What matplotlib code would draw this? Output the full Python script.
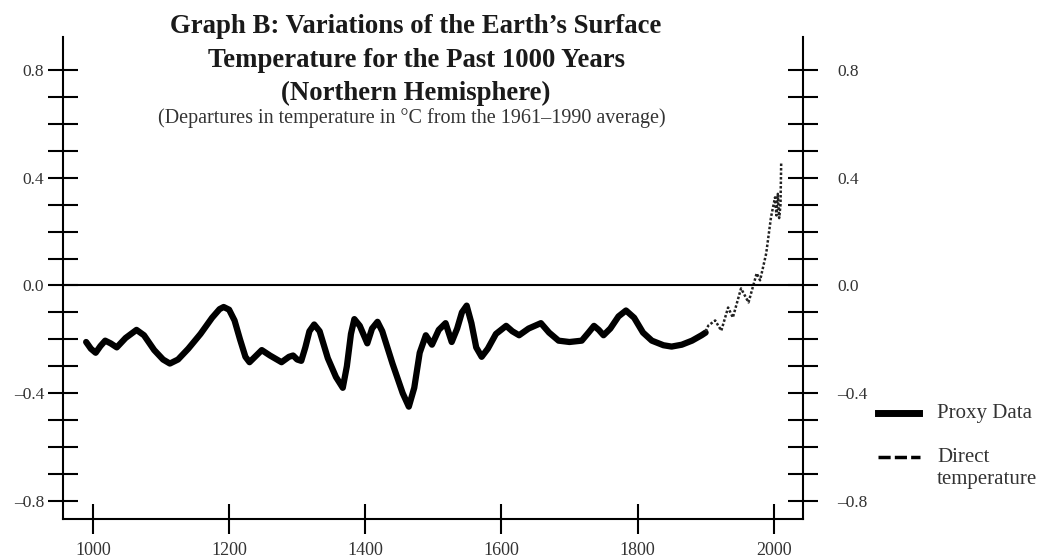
import matplotlib.pyplot as plt
from matplotlib.lines import Line2D
from matplotlib.ticker import FixedLocator

# values
proxy_years = [990, 997, 1004, 1011, 1018, 1026, 1035, 1048, 1064, 1075, 1090, 1103,
               1113, 1125, 1140, 1158, 1175, 1186, 1192, 1200, 1208, 1216, 1224, 1230,
               1238, 1248, 1260, 1277, 1288, 1294, 1300, 1306, 1312, 1318, 1325, 1333,
               1345, 1357, 1367, 1373, 1379, 1384, 1392, 1403, 1410, 1418, 1425, 1440,
               1455, 1464, 1472, 1480, 1489, 1498, 1508, 1518, 1527, 1535, 1542, 1549,
               1556, 1563, 1571, 1580, 1592, 1607, 1616, 1626, 1640, 1658, 1670, 1684,
               1700, 1718, 1728, 1736, 1743, 1750, 1760, 1772, 1783, 1795, 1808, 1821,
               1838, 1850, 1865, 1880, 1894, 1900]
proxy_temps = [-0.21, -0.235, -0.25, -0.225, -0.205, -0.215, -0.23, -0.195, -0.165, -0.185, -0.24, -0.275,
               -0.29, -0.275, -0.235, -0.18, -0.12, -0.088, -0.08, -0.09, -0.13, -0.2, -0.265, -0.285,
               -0.265, -0.24, -0.26, -0.285, -0.265, -0.26, -0.275, -0.28, -0.23, -0.17, -0.145, -0.17,
               -0.27, -0.34, -0.38, -0.3, -0.18, -0.125, -0.15, -0.215, -0.16, -0.135, -0.17, -0.29,
               -0.4, -0.45, -0.38, -0.25, -0.185, -0.22, -0.165, -0.14, -0.21, -0.16, -0.1, -0.075,
               -0.14, -0.23, -0.265, -0.235, -0.18, -0.15, -0.17, -0.185, -0.16, -0.14, -0.175, -0.205,
               -0.21, -0.205, -0.175, -0.15, -0.165, -0.185, -0.16, -0.115, -0.093, -0.12, -0.175, -0.205,
               -0.222, -0.227, -0.22, -0.205, -0.185, -0.175]

direct_years = [1900, 1904, 1914, 1923, 1933, 1940, 1952, 1963, 1975, 1980, 1989,
                1996, 2002, 2004, 2006, 2008, 2010, 2011]
direct_temps = [-0.17, -0.149, -0.13, -0.168, -0.082, -0.119, -0.011, -0.063, 0.045, 0.019, 0.119,
                0.253, 0.327, 0.26, 0.34, 0.25, 0.3, 0.457]

year_ticks = [1000, 1200, 1400, 1600, 1800, 2000]
temp_ticks = [-0.8, -0.4, 0.0, 0.4, 0.8]
temp_labels = ['\u20130.8', '\u20130.4', '0.0', '0.4', '0.8']
temp_minor = [-0.7, -0.6, -0.5, -0.3, -0.2, -0.1, 0.1, 0.2, 0.3, 0.5, 0.6, 0.7]

plt.rcParams['font.family'] = ['Liberation Serif', 'DejaVu Serif']

fig = plt.figure(figsize=(10.48, 5.59), dpi=100)
ax = fig.add_axes([0.0601, 0.0716, 0.7061, 0.8623])
ax2 = ax.twinx()

ax.plot(proxy_years, proxy_temps, color='black', lw=4.5,
        solid_joinstyle='round', solid_capstyle='round')
ax.plot(direct_years, direct_temps, color='#222222', lw=1.8, linestyle=(0, (1, 0.8)))
ax.axhline(0, color='black', lw=1.5)

for a in (ax, ax2):
    a.set_xlim(956, 2043)
    a.set_ylim(-0.867, 0.9225)
    a.set_yticks(temp_ticks)
    a.yaxis.set_minor_locator(FixedLocator(temp_minor))
    a.spines['top'].set_visible(False)

ax.spines['right'].set_visible(False)
ax2.spines['left'].set_visible(False)
ax2.spines['bottom'].set_visible(False)
for s in ('left', 'bottom'):
    ax.spines[s].set_linewidth(1.5)
ax2.spines['right'].set_linewidth(1.5)

ax.set_xticks(year_ticks)
ax.set_xticklabels([str(y) for y in year_ticks])
ax.set_yticklabels(temp_labels)
ax2.set_yticklabels(temp_labels)

ax.tick_params(axis='x', direction='inout', length=21, width=1.5, pad=6,
               labelsize=13, labelcolor='#333333')
ax.tick_params(axis='y', which='both', direction='inout', length=21, width=1.5,
               left=True, right=False, pad=3, labelsize=12.5, labelcolor='#333333')
ax2.tick_params(axis='y', which='both', direction='inout', length=21, width=1.5,
                right=True, left=False, pad=14, labelsize=12.5, labelcolor='#333333')

# titles
title_kw = dict(ha='center', va='baseline', fontsize=19.3, fontweight='bold', color='#1a1a1a')
fig.text(0.397, 1 - 33 / 559, 'Graph B: Variations of the Earth\u2019s Surface', **title_kw)
fig.text(0.397, 1 - 67 / 559, 'Temperature for the Past 1000 Years', **title_kw)
fig.text(0.397, 1 - 100 / 559, '(Northern Hemisphere)', **title_kw)
fig.text(0.393, 1 - 123 / 559, '(Departures in temperature in \u00b0C from the 1961\u20131990 average)',
         ha='center', va='baseline', fontsize=14.5, color='#333333')

# legend drawn beside the axes
fig.add_artist(Line2D([878 / 1048, 919 / 1048], [1 - 413 / 559, 1 - 413 / 559],
                      color='black', lw=5, transform=fig.transFigure))
fig.add_artist(Line2D([878 / 1048, 920 / 1048], [1 - 457 / 559, 1 - 457 / 559],
                      color='black', lw=2.5, linestyle=(0, (3.5, 1.2)),
                      transform=fig.transFigure))
leg_kw = dict(ha='left', va='baseline', fontsize=15, color='#333333')
fig.text(937 / 1048, 1 - 418 / 559, 'Proxy Data', **leg_kw)
fig.text(937 / 1048, 1 - 462 / 559, 'Direct', **leg_kw)
fig.text(937 / 1048, 1 - 484 / 559, 'temperature', **leg_kw)

fig.savefig('out.png', dpi=100)
